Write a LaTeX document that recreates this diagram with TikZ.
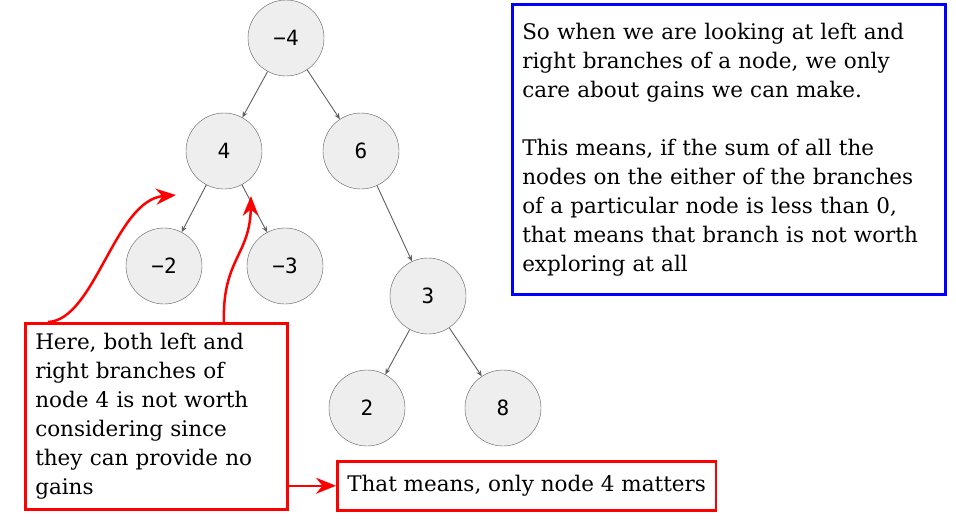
\documentclass[tikz,border=0pt]{standalone}
\usepackage{fontspec}
\setmainfont{DejaVu Serif}
\setmonofont{DejaVu Sans Mono}
\usetikzlibrary{arrows.meta}
\definecolor{nodefill}{HTML}{EEEEEE}
\definecolor{nodeline}{HTML}{5F5F5F}
\begin{document}
\begin{tikzpicture}[x=1pt, y=-1pt, >=stealth,
    num/.style={circle, draw=nodeline, fill=nodefill, minimum size=76pt, inner sep=0pt, font=\ttfamily\fontsize{21}{21}\selectfont},
    edge/.style={-{Stealth[length=6pt, width=5pt]}, draw=nodeline, line width=0.9pt},
    note/.style={draw=red, line width=2.5pt, align=left, anchor=north west, font=\fontsize{21.5}{29}\selectfont},
    callout/.style={red, line width=2.5pt, -{Stealth[length=20pt, width=16pt]}}]

            \useasboundingbox (0,0) rectangle (956,531);

            % Tree
            \node[num] (R) at (286,38) {−4};
            \node[num] (A) at (224,151) {4};
            \node[num] (B) at (361,151) {6};
            \node[num] (C) at (164,266) {−2};
            \node[num] (D) at (285,266) {−3};
            \node[num] (E) at (428,296) {3};
            \node[num] (F) at (367,408) {2};
            \node[num] (G) at (503,408) {8};

            % Connect Tree
            \foreach \a/\b in {R/A, R/B, A/C, A/D, B/E, E/F, E/G}
            \draw[edge] (\a) -- (\b);

            % Notes
            \node[draw=blue, line width=2.5pt, align=left, anchor=north west, text width=413pt, minimum height=290pt, inner xsep=10pt, inner ysep=0pt, font=\fontsize{21.5}{29}\selectfont] (info) at (511,3) {So when we are looking at left and\\right branches of a node, we only\\care about gains we can make.\\[29pt]This means, if the sum of all the\\nodes on the either of the branches\\of a particular node is less than 0,\\that means that branch is not worth\\exploring at all};
            \node[note, text width=242pt, minimum height=186pt, inner xsep=10pt, inner ysep=0pt] (left) at (24,322) {Here, both left and\\right branches of\\node 4 is not worth\\considering since\\they can provide no\\gains};
            \node[note, minimum height=49pt, inner xsep=10pt, inner ysep=0pt] (only) at (336,460) {That means, only node 4 matters};

            % Callouts
            \coordinate (tipL) at (176,195);
            \coordinate (tipR) at (251,196);
            \coordinate (fromL) at (48,322);
            \coordinate (fromR) at (224,322);
            \draw[callout] (fromL) .. controls (95,320) and (115,200) .. (tipL);
            \draw[callout] (fromR) .. controls (222,260) and (250,255) .. (tipR);
            \draw[callout] (left.east |- only) -- (only);

        \end{tikzpicture}
\end{document}
